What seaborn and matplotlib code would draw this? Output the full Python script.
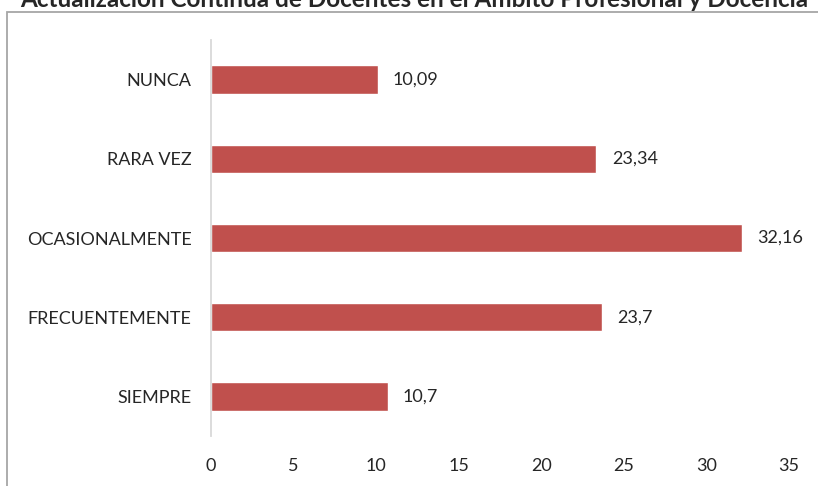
import matplotlib
matplotlib.use("Agg")
import pandas as pd
import seaborn as sns
import matplotlib.pyplot as plt
from matplotlib.patches import Rectangle

# -------------------------------------------------
# DATA
# -------------------------------------------------

categories = ["NUNCA", "RARA VEZ", "OCASIONALMENTE", "FRECUENTEMENTE", "SIEMPRE"]
values = [10.09, 23.34, 32.16, 23.7, 10.7]
value_labels = ["10,09", "23,34", "32,16", "23,7", "10,7"]
x_ticks = [0, 5, 10, 15, 20, 25, 30, 35]

title = "Actualización Continua de Docentes en el Ámbito Profesional y Docencia"

df = pd.DataFrame({"Categoria": categories, "Valor": values})

# -------------------------------------------------
# PLOT
# -------------------------------------------------

sns.set_theme(style="white")
plt.rcParams["font.family"] = ["Lato", "DejaVu Sans"]

W, H = 818, 486
fig = plt.figure(figsize=(W / 100, H / 100), dpi=100)
ax = fig.add_axes([211 / W, (H - 436) / H, 578 / W, 396 / H])

sns.barplot(
    data=df,
    y="Categoria",
    x="Valor",
    orient="h",
    color="#C0504D",
    saturation=1,
    width=0.36,
    ax=ax
)

ax.set_xlim(0, 35)
ax.set_xticks(x_ticks)
ax.set_xticklabels([str(t) for t in x_ticks], fontsize=13)
ax.tick_params(axis="y", labelsize=13, length=0, pad=14)
ax.tick_params(axis="x", length=0, pad=16)
ax.set_xlabel("")
ax.set_ylabel("")

for side in ["top", "right", "bottom"]:
    ax.spines[side].set_visible(False)
ax.spines["left"].set_color("#D9D9D9")
ax.spines["left"].set_linewidth(1.3)

for i, (v, lab) in enumerate(zip(values, value_labels)):
    ax.annotate(lab, xy=(v, i), xytext=(11, 0), textcoords="offset points",
                va="center", ha="left", fontsize=13)

# outer chart frame (cut off at right and bottom, as in the source)
fig.patches.append(Rectangle((7 / W, -0.05), 1.2, 1 - 12 / H + 0.05,
                             transform=fig.transFigure, fill=False,
                             edgecolor="#A6A6A6", linewidth=1.3))

fig.text(20 / W, 1 - 7 / H, title, fontsize=17.5, fontweight="bold",
         ha="left", va="baseline")

plt.savefig("out.png", dpi=100)
plt.close()
